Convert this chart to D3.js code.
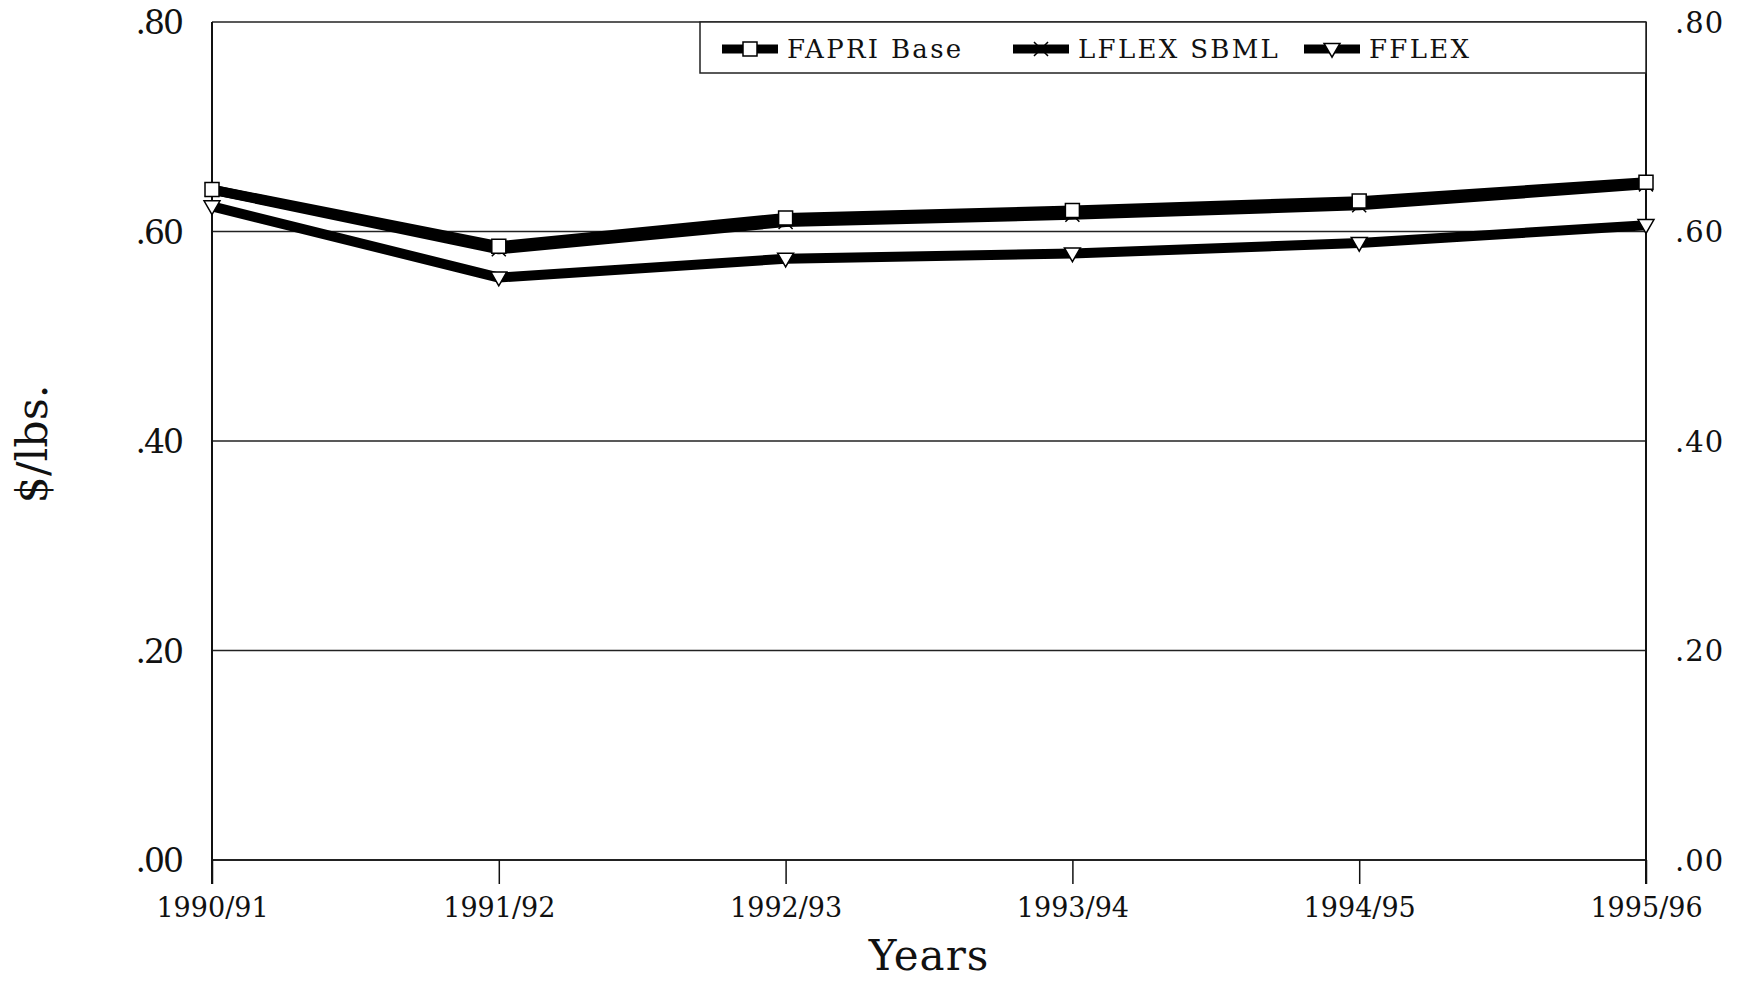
<!DOCTYPE html>
<html>
<head>
<meta charset="utf-8">
<script src="https://cdn.jsdelivr.net/npm/d3@7"></script>
<style>
  html, body { margin: 0; padding: 0; background: #fff; }
  svg { display: block; }
  text { font-family: "DejaVu Serif", serif; fill: #111; }
</style>
</head>
<body>
<svg id="chart" width="1744" height="981"></svg>
<script>
// chart data
const years = ['1990/91', '1991/92', '1992/93', '1993/94', '1994/95', '1995/96']
const fapriBase = [0.640, 0.586, 0.613, 0.620, 0.629, 0.647]
const lflexSbml = [0.640, 0.583, 0.609, 0.616, 0.625, 0.645]
const fflex = [0.624, 0.556, 0.574, 0.579, 0.589, 0.606]
const yTicks = [0, 0.2, 0.4, 0.6, 0.8]

const series = [
  { name: 'LFLEX SBML', values: lflexSbml, symbol: 'times' },
  { name: 'FAPRI Base', values: fapriBase, symbol: 'square' },
  { name: 'FFLEX', values: fflex, symbol: 'triangle' }
]
const legendOrder = ['FAPRI Base', 'LFLEX SBML', 'FFLEX']

const margin = { top: 22, right: 98, bottom: 121, left: 212 }
const W = 1744
const H = 981
const width = W - margin.left - margin.right
const height = H - margin.top - margin.bottom

const svg = d3.select('#chart')
const g = svg.append('g').attr('transform', `translate(${margin.left},${margin.top})`)

const x = d3.scalePoint().domain(years).range([0, width])
const y = d3.scaleLinear().domain([0, 0.8]).range([height, 0])
const fmt = (d) => d3.format('.2f')(d).replace(/^0/, '')

// horizontal grid lines (top frame + bottom axis included)
g.append('g')
  .selectAll('line')
  .data(yTicks)
  .join('line')
  .attr('x1', 0)
  .attr('x2', width)
  .attr('y1', (d) => y(d))
  .attr('y2', (d) => y(d))
  .attr('stroke', '#222')
  .attr('stroke-width', (d) => (d === 0 ? 2 : 1.5))

// left / right frame lines, run a bit below the x axis like the ticks
const tickLen = 24
g.append('g')
  .selectAll('line')
  .data([0, width])
  .join('line')
  .attr('x1', (d) => d)
  .attr('x2', (d) => d)
  .attr('y1', y(0.8))
  .attr('y2', height + tickLen)
  .attr('stroke', '#111')
  .attr('stroke-width', 2)

// x axis
const xAxis = g.append('g')
  .attr('transform', `translate(0,${height})`)
  .call(d3.axisBottom(x).tickSize(tickLen).tickPadding(14))
xAxis.select('.domain').remove()
xAxis.selectAll('.tick line').attr('stroke', '#111').attr('stroke-width', 1.5)
xAxis.selectAll('.tick text')
  .attr('font-family', 'DejaVu Serif')
  .attr('font-size', 27)
  .attr('fill', '#111')

// left y axis
const yLeft = g.append('g')
  .call(d3.axisLeft(y).tickValues(yTicks).tickFormat(fmt).tickSize(0).tickPadding(30))
yLeft.select('.domain').remove()
yLeft.selectAll('.tick text')
  .attr('font-family', 'DejaVu Serif')
  .attr('font-size', 33)
  .attr('letter-spacing', -2)
  .attr('dy', '0.36em')
  .attr('fill', '#111')

// right y axis
const yRight = g.append('g')
  .attr('transform', `translate(${width},0)`)
  .call(d3.axisRight(y).tickValues(yTicks).tickFormat(fmt).tickSize(0).tickPadding(29))
yRight.select('.domain').remove()
yRight.selectAll('.tick text')
  .attr('font-family', 'DejaVu Serif')
  .attr('font-size', 29)
  .attr('letter-spacing', 1)
  .attr('dy', '0.36em')
  .attr('fill', '#444')

// series lines
const line = d3.line()
  .x((d, i) => x(years[i]))
  .y((d) => y(d))

g.append('g')
  .selectAll('path')
  .data(series)
  .join('path')
  .attr('d', (s) => line(s.values))
  .attr('fill', 'none')
  .attr('stroke', '#000')
  .attr('stroke-width', 10)
  .attr('stroke-linejoin', 'round')

const symbolPath = {
  square: d3.symbol().type(d3.symbolSquare).size(196)(),
  times: d3.symbol().type(d3.symbolTimes).size(130)(),
  triangle: d3.symbol().type(d3.symbolTriangle).size(110)()
}

function drawMarker(sel, kind) {
  sel.append('path')
    .attr('d', symbolPath[kind])
    .attr('transform', kind === 'triangle' ? 'rotate(180) translate(0,1)' : null)
    .attr('fill', kind === 'times' ? 'none' : '#fff')
    .attr('stroke', '#000')
    .attr('stroke-width', 1.5)
}

// markers: LFLEX first so the squares sit on top of the crosses
series.forEach((s) => {
  g.append('g')
    .selectAll('g')
    .data(s.values)
    .join('g')
    .attr('transform', (d, i) => `translate(${x(years[i])},${y(d)})`)
    .each(function () { drawMarker(d3.select(this), s.symbol) })
})

// legend
const legend = g.append('g')
legend.append('rect')
  .attr('x', 488)
  .attr('y', 0)
  .attr('width', width - 488)
  .attr('height', 51)
  .attr('fill', '#fff')
  .attr('stroke', '#222')
  .attr('stroke-width', 1.5)

const items = legend.selectAll('g.item')
  .data(legendOrder.map((n) => series.find((s) => s.name === n)))
  .join('g')
  .attr('class', 'item')
  .attr('transform', (d, i) => `translate(${510 + i * 291},27)`)

items.append('line')
  .attr('x1', 0)
  .attr('x2', 56)
  .attr('stroke', '#000')
  .attr('stroke-width', 9)
items.append('g')
  .attr('transform', 'translate(28,0)')
  .each(function (d) { drawMarker(d3.select(this), d.symbol) })
items.append('text')
  .attr('x', 65)
  .attr('y', 9)
  .attr('font-size', 26)
  .attr('letter-spacing', 2.3)
  .text((d) => d.name)

// axis titles
svg.append('text')
  .attr('x', margin.left + width / 2)
  .attr('y', 970)
  .attr('text-anchor', 'middle')
  .attr('font-size', 42)
  .attr('letter-spacing', 1)
  .text('Years')

svg.append('text')
  .attr('transform', `translate(47,${margin.top + height / 2 + 3}) rotate(-90)`)
  .attr('text-anchor', 'middle')
  .attr('font-size', 43)
  .text('$/lbs.')
</script>
</body>
</html>
